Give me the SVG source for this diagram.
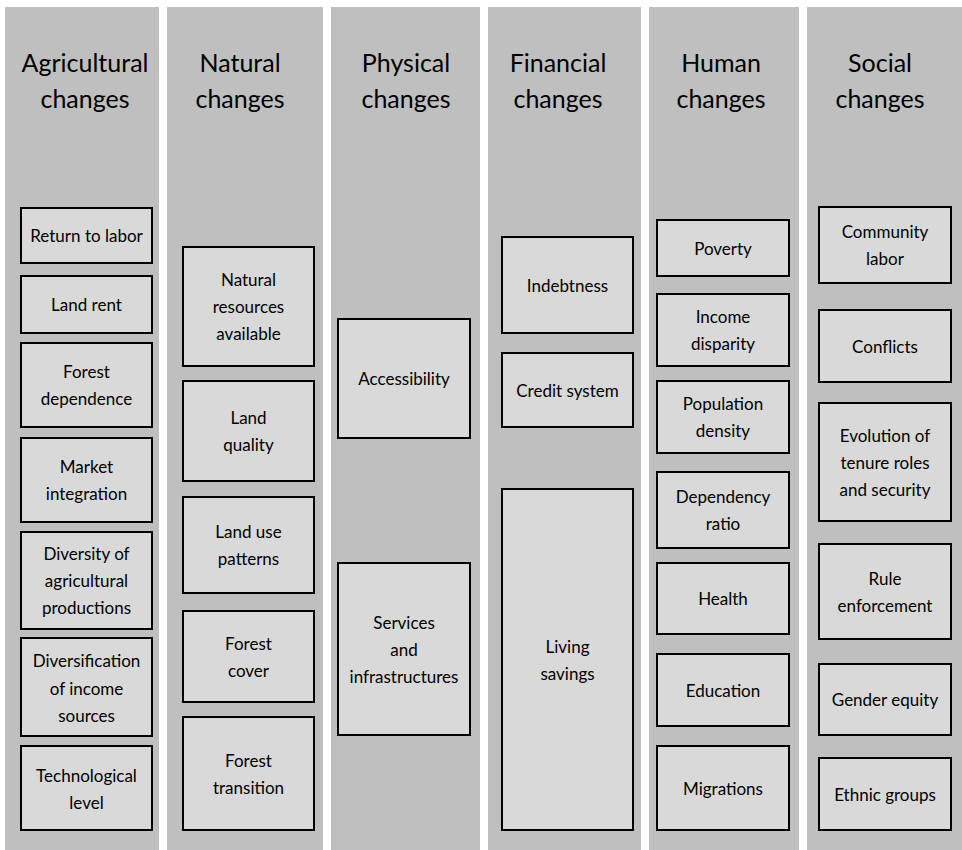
<svg xmlns="http://www.w3.org/2000/svg" width="962" height="850" viewBox="0 0 962 850">
<style>
.col{fill:#bfbfbf}
.box{fill:#d9d9d9;stroke:#000;stroke-width:2}
.t{font-family:Lato,"Open Sans","Liberation Sans",sans-serif;font-size:17px;fill:#000;text-anchor:middle}
.h{font-family:Lato,"Open Sans","Liberation Sans",sans-serif;font-size:25px;fill:#000;text-anchor:middle}
</style>
<rect width="962" height="850" fill="#fff"/>
<g id="columns">
<rect class="col" x="5" y="7" width="154" height="843"/>
<rect class="col" x="167" y="7" width="156" height="843"/>
<rect class="col" x="331" y="7" width="149" height="843"/>
<rect class="col" x="488" y="7" width="153" height="843"/>
<rect class="col" x="649" y="7" width="150" height="843"/>
<rect class="col" x="807" y="7" width="155" height="843"/>
</g>
<g id="headers">
<text class="h" x="85" y="72">Agricultural<tspan x="85" y="108">changes</tspan></text>
<text class="h" x="240" y="72">Natural<tspan x="240" y="108">changes</tspan></text>
<text class="h" x="406" y="72">Physical<tspan x="406" y="108">changes</tspan></text>
<text class="h" x="558" y="72">Financial<tspan x="558" y="108">changes</tspan></text>
<text class="h" x="721" y="72">Human<tspan x="721" y="108">changes</tspan></text>
<text class="h" x="880" y="72">Social<tspan x="880" y="108">changes</tspan></text>
</g>
<g id="agricultural">
<g id="n-return"><rect class="box" x="21" y="208" width="131" height="55"/><text class="t" x="86.5" y="241.5">Return to labor</text></g>
<g id="n-landrent"><rect class="box" x="21" y="276" width="131" height="57"/><text class="t" x="86.5" y="310.5">Land rent</text></g>
<g id="n-forestdep"><rect class="box" x="21" y="343" width="131" height="84"/><text class="t" x="86.5" y="377.5">Forest<tspan x="86.5" y="404.5">dependence</tspan></text></g>
<g id="n-market"><rect class="box" x="21" y="438" width="131" height="84"/><text class="t" x="86.5" y="472.5">Market<tspan x="86.5" y="499.5">integration</tspan></text></g>
<g id="n-diversity"><rect class="box" x="21" y="532" width="131" height="97"/><text class="t" x="86.5" y="560">Diversity of<tspan x="86.5" y="587">agricultural</tspan><tspan x="86.5" y="614">productions</tspan></text></g>
<g id="n-diversification"><rect class="box" x="21" y="638" width="131" height="98"/><text class="t" x="86.5" y="667">Diversification<tspan x="86.5" y="694.5">of income</tspan><tspan x="86.5" y="722">sources</tspan></text></g>
<g id="n-tech"><rect class="box" x="21" y="746" width="131" height="84"/><text class="t" x="86.5" y="782">Technological<tspan x="86.5" y="808.5">level</tspan></text></g>
</g>
<g id="natural">
<g id="n-natres"><rect class="box" x="183" y="247" width="131" height="119"/><text class="t" x="248.5" y="286">Natural<tspan x="248.5" y="313">resources</tspan><tspan x="248.5" y="340">available</tspan></text></g>
<g id="n-landq"><rect class="box" x="183" y="381" width="131" height="100"/><text class="t" x="248.5" y="424">Land<tspan x="248.5" y="451">quality</tspan></text></g>
<g id="n-landuse"><rect class="box" x="183" y="497" width="131" height="96"/><text class="t" x="248.5" y="538">Land use<tspan x="248.5" y="565">patterns</tspan></text></g>
<g id="n-forestcov"><rect class="box" x="183" y="611" width="131" height="91"/><text class="t" x="248.5" y="649.5">Forest<tspan x="248.5" y="676.5">cover</tspan></text></g>
<g id="n-foresttr"><rect class="box" x="183" y="717" width="131" height="113"/><text class="t" x="248.5" y="766.5">Forest<tspan x="248.5" y="793.5">transition</tspan></text></g>
</g>
<g id="physical">
<g id="n-access"><rect class="box" x="338" y="319" width="132" height="119"/><text class="t" x="404" y="385">Accessibility</text></g>
<g id="n-services"><rect class="box" x="338" y="563" width="132" height="172"/><text class="t" x="404" y="628.5">Services<tspan x="404" y="655.5">and</tspan><tspan x="404" y="682.5">infrastructures</tspan></text></g>
</g>
<g id="financial">
<g id="n-indebt"><rect class="box" x="502" y="237" width="131" height="96"/><text class="t" x="567.5" y="291.5">Indebtness</text></g>
<g id="n-credit"><rect class="box" x="502" y="353" width="131" height="74"/><text class="t" x="567.5" y="396.5">Credit system</text></g>
<g id="n-savings"><rect class="box" x="502" y="489" width="131" height="341"/><text class="t" x="567.5" y="652.5">Living<tspan x="567.5" y="679.5">savings</tspan></text></g>
</g>
<g id="human">
<g id="n-poverty"><rect class="box" x="657" y="220" width="132" height="56"/><text class="t" x="723" y="254.5">Poverty</text></g>
<g id="n-income"><rect class="box" x="657" y="294" width="132" height="72"/><text class="t" x="723" y="323">Income<tspan x="723" y="350">disparity</tspan></text></g>
<g id="n-popdens"><rect class="box" x="657" y="381" width="132" height="72"/><text class="t" x="723" y="410">Population<tspan x="723" y="437">density</tspan></text></g>
<g id="n-depratio"><rect class="box" x="657" y="472" width="132" height="76"/><text class="t" x="723" y="503">Dependency<tspan x="723" y="530">ratio</tspan></text></g>
<g id="n-health"><rect class="box" x="657" y="563" width="132" height="71"/><text class="t" x="723" y="605">Health</text></g>
<g id="n-education"><rect class="box" x="657" y="654" width="132" height="72"/><text class="t" x="723" y="696.5">Education</text></g>
<g id="n-migrations"><rect class="box" x="657" y="746" width="132" height="84"/><text class="t" x="723" y="794.5">Migrations</text></g>
</g>
<g id="social">
<g id="n-community"><rect class="box" x="819" y="207" width="132" height="76"/><text class="t" x="885" y="238">Community<tspan x="885" y="265">labor</tspan></text></g>
<g id="n-conflicts"><rect class="box" x="819" y="310" width="132" height="72"/><text class="t" x="885" y="352.5">Conflicts</text></g>
<g id="n-tenure"><rect class="box" x="819" y="403" width="132" height="118"/><text class="t" x="885" y="441.5">Evolution of<tspan x="885" y="468.5">tenure roles</tspan><tspan x="885" y="495.5">and security</tspan></text></g>
<g id="n-rule"><rect class="box" x="819" y="544" width="132" height="95"/><text class="t" x="885" y="584.5">Rule<tspan x="885" y="611.5">enforcement</tspan></text></g>
<g id="n-gender"><rect class="box" x="819" y="664" width="132" height="71"/><text class="t" x="885" y="706">Gender equity</text></g>
<g id="n-ethnic"><rect class="box" x="819" y="758" width="132" height="72"/><text class="t" x="885" y="800.5">Ethnic groups</text></g>
</g>
<g id="connectors"/>
</svg>
